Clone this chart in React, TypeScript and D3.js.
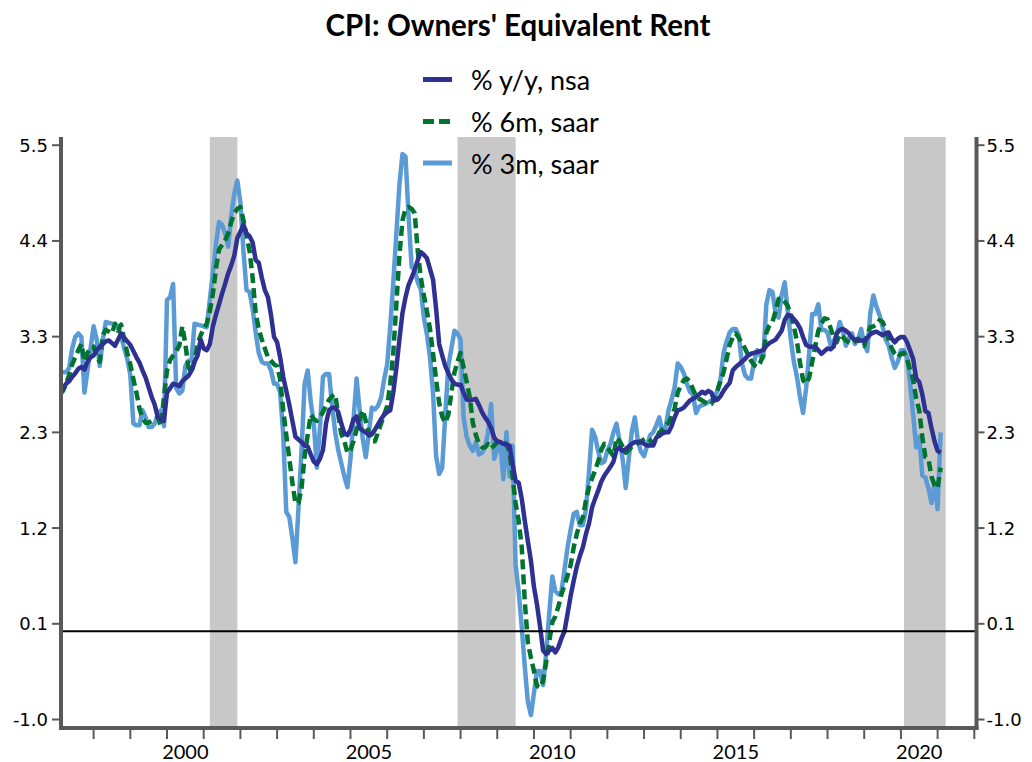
import React from 'react';
import * as d3 from 'd3';

// Monthly data, starting February 1997
const START_YEAR = 1997;
const START_MONTH = 2;

// % y/y, nsa
const yoy = [
  2.72, 2.75, 2.80, 2.83, 2.88, 2.92, 2.97, 2.99, 2.96, 3.05, 3.10,
  3.12, 3.18, 3.22, 3.25, 3.28, 3.29, 3.26, 3.23, 3.30, 3.37, 3.32, 3.28,
  3.24, 3.17, 3.10, 3.04, 2.95, 2.87, 2.76, 2.65, 2.56, 2.42, 2.40, 2.38,
  2.70, 2.75, 2.80, 2.79, 2.77, 2.83, 2.86, 2.89, 2.95, 3.05, 3.12, 3.30,
  3.20, 3.18, 3.25, 3.45, 3.58, 3.70, 3.82, 3.93, 4.05, 4.14, 4.25, 4.45,
  4.52, 4.60, 4.50, 4.47, 4.40, 4.20, 4.17, 4.00, 3.86, 3.78, 3.58, 3.33,
  3.27, 3.10, 2.88, 2.72, 2.56, 2.38, 2.20, 2.17, 2.14, 2.10, 2.09, 2.00,
  1.92, 1.89, 1.95, 2.05, 2.35, 2.50, 2.53, 2.53, 2.48, 2.35, 2.24, 2.22,
  2.28, 2.40, 2.43, 2.30, 2.27, 2.25, 2.22, 2.23, 2.28, 2.34, 2.40, 2.45,
  2.48, 2.50, 2.70, 2.98, 3.30, 3.60, 3.78, 3.92, 4.00, 4.09, 4.20, 4.29,
  4.26, 4.22, 4.10, 3.98, 3.65, 3.25, 3.12, 3.00, 2.92, 2.85, 2.80, 2.79,
  2.79, 2.70, 2.62, 2.61, 2.62, 2.63, 2.56, 2.48, 2.42, 2.37, 2.30, 2.19,
  2.15, 2.14, 2.12, 2.11, 2.10, 1.90, 1.70, 1.68, 1.50, 1.25, 1.02, 0.80,
  0.50, 0.30, 0.05, -0.22, -0.26, -0.22, -0.19, -0.24, -0.18, -0.08, 0.00, 0.20,
  0.40, 0.57, 0.73, 0.85, 0.95, 1.10, 1.22, 1.40, 1.50, 1.59, 1.69, 1.76,
  1.81, 1.86, 1.92, 2.05, 2.08, 2.04, 2.06, 2.09, 2.12, 2.14, 2.14, 2.14,
  2.12, 2.10, 2.10, 2.10, 2.19, 2.21, 2.24, 2.25, 2.25, 2.32, 2.42, 2.50,
  2.51, 2.53, 2.57, 2.61, 2.63, 2.65, 2.68, 2.71, 2.69, 2.72, 2.70, 2.61,
  2.62, 2.66, 2.72, 2.77, 2.81, 2.95, 2.99, 3.02, 3.05, 3.08, 3.12, 3.14,
  3.15, 3.16, 3.17, 3.18, 3.23, 3.26, 3.28, 3.30, 3.35, 3.40, 3.52, 3.58,
  3.57, 3.53, 3.49, 3.43, 3.33, 3.24, 3.22, 3.22, 3.22, 3.18, 3.14, 3.17,
  3.20, 3.19, 3.22, 3.37, 3.41, 3.42, 3.40, 3.37, 3.32, 3.30, 3.29, 3.29,
  3.29, 3.32, 3.36, 3.38, 3.39, 3.37, 3.35, 3.37, 3.38, 3.31, 3.27, 3.31,
  3.33, 3.33, 3.27, 3.18, 3.08, 2.86, 2.82, 2.68, 2.49, 2.47, 2.30, 2.15,
  2.04, 2.02,
];

// % 6m, saar
const sixMonth = [
  2.68, 2.72, 2.80, 2.90, 3.02, 3.10, 3.18, 3.25, 3.05, 3.15, 3.20,
  3.22, 3.10, 3.05, 3.35, 3.41, 3.39, 3.37, 3.48, 3.40, 3.47, 3.30, 3.15,
  3.02, 2.85, 2.70, 2.52, 2.41, 2.36, 2.36, 2.38, 2.40, 2.42, 2.32, 2.65,
  2.95, 3.07, 3.12, 3.17, 3.23, 3.45, 3.25, 2.99, 2.93, 3.05, 3.25, 3.35,
  3.42, 3.48, 3.62, 3.82, 4.10, 4.32, 4.37, 4.42, 4.50, 4.63, 4.73, 4.78,
  4.80, 4.65, 4.48, 4.30, 4.00, 3.60, 3.42, 3.30, 3.20, 3.10, 3.06, 3.02,
  3.00, 2.85, 2.50, 2.22, 1.95, 1.68, 1.45, 1.45, 1.62, 1.98, 2.22, 2.45,
  2.40, 2.38, 2.42, 2.48, 2.55, 2.62, 2.66, 2.68, 2.45, 2.23, 2.15, 2.02,
  2.05, 2.15, 2.28, 2.40, 2.50, 2.38, 2.25, 2.15, 2.15, 2.25, 2.35, 2.45,
  2.55, 2.80, 3.15, 3.70, 4.25, 4.65, 4.78, 4.80, 4.78, 4.73, 4.30, 4.00,
  3.80, 3.62, 3.42, 3.14, 2.85, 2.58, 2.43, 2.36, 2.45, 2.70, 2.93, 3.05,
  3.15, 2.98, 2.82, 2.65, 2.36, 2.22, 2.12, 2.08, 2.08, 2.12, 2.07, 2.10,
  2.14, 2.14, 2.14, 2.12, 2.03, 1.75, 1.45, 1.25, 0.95, 0.34, -0.13, -0.30,
  -0.45, -0.62, -0.64, -0.56, -0.35, -0.12, 0.10, 0.17, 0.28, 0.42, 0.52, 0.63,
  0.75, 0.95, 1.10, 1.22, 1.29, 1.48, 1.63, 1.73, 1.82, 1.92, 2.05, 2.12,
  2.08, 2.03, 1.98, 2.19, 2.15, 2.09, 2.02, 2.05, 2.09, 2.11, 2.13, 2.15,
  2.17, 2.19, 2.16, 2.12, 2.18, 2.25, 2.28, 2.32, 2.36, 2.43, 2.52, 2.70,
  2.78, 2.84, 2.86, 2.82, 2.74, 2.66, 2.63, 2.61, 2.59, 2.56, 2.57, 2.64,
  2.72, 2.83, 2.93, 3.08, 3.24, 3.32, 3.37, 3.32, 3.26, 3.20, 3.13, 3.06,
  3.01, 2.99, 3.04, 3.13, 3.38, 3.46, 3.50, 3.62, 3.76, 3.77, 3.73, 3.68,
  3.58, 3.45, 3.28, 3.04, 2.84, 2.80, 2.87, 3.05, 3.23, 3.40, 3.48, 3.54,
  3.53, 3.43, 3.33, 3.27, 3.36, 3.33, 3.29, 3.27, 3.25, 3.28, 3.31, 3.27,
  3.23, 3.35, 3.44, 3.45, 3.47, 3.52, 3.50, 3.42, 3.30, 3.20, 3.14, 3.10,
  3.14, 3.15, 3.08, 2.96, 2.85, 2.63, 2.50, 2.20, 1.97, 1.95, 1.75, 1.65,
  1.62, 1.85,
];

// % 3m, saar
const threeMonth = [
  2.93, 2.93, 2.93, 2.98, 3.20, 3.33, 3.37, 3.33, 2.70, 2.95, 3.20,
  3.45, 3.30, 3.00, 3.30, 3.50, 3.49, 3.48, 3.47, 3.45, 3.34, 3.20, 3.08,
  2.90, 2.35, 2.33, 2.33, 2.50, 2.42, 2.31, 2.31, 2.35, 2.45, 2.50, 2.32,
  3.75, 3.78, 3.93, 2.75, 2.69, 2.72, 3.00, 3.06, 3.06, 3.48, 3.47, 3.46,
  3.45, 3.44, 3.75, 4.05, 4.38, 4.63, 4.60, 4.50, 4.35, 4.70, 4.95, 5.10,
  4.85, 4.30, 3.86, 3.84, 3.65, 3.38, 3.15, 3.05, 3.03, 3.03, 2.95, 2.80,
  2.80, 2.70, 2.23, 1.35, 1.29, 1.05, 0.78, 1.40, 2.05, 2.80, 2.95, 2.60,
  2.35, 1.85, 2.30, 2.88, 2.91, 2.91, 2.55, 2.25, 2.05, 1.90, 1.75, 1.63,
  1.95, 2.40, 2.86, 2.50, 2.18, 1.97, 2.25, 2.53, 2.51, 2.55, 2.64, 2.85,
  3.02, 3.45, 3.95, 4.50, 5.05, 5.40, 5.37, 4.70, 4.12, 4.09, 3.95, 3.87,
  3.55, 3.36, 3.10, 2.69, 1.98, 1.78, 1.85, 2.45, 3.00, 3.20, 3.40, 3.37,
  3.30, 2.42, 2.20, 2.10, 2.04, 2.14, 2.00, 2.02, 2.08, 2.25, 2.57, 1.95,
  2.05, 2.14, 1.72, 2.25, 1.75, 2.10, 0.75, 0.45, 0.05, -0.40, -0.80, -0.95,
  -0.70, -0.45, -0.45, -0.61, -0.25, 0.20, 0.62, 0.45, 0.42, 0.45, 0.70, 0.95,
  1.15, 1.33, 1.35, 1.20, 1.20, 1.38, 1.80, 2.28, 2.20, 2.04, 1.90, 1.92,
  2.04, 2.12, 2.25, 2.35, 2.15, 1.95, 1.62, 1.95, 2.26, 2.42, 2.15, 2.03,
  1.98, 2.10, 2.22, 2.25, 2.33, 2.42, 2.24, 2.30, 2.50, 2.62, 2.76, 3.03,
  2.99, 2.92, 2.80, 2.71, 2.68, 2.47, 2.54, 2.56, 2.57, 2.59, 2.61, 2.65,
  2.72, 2.85, 3.15, 3.28, 3.38, 3.42, 3.42, 3.35, 3.03, 2.90, 2.86, 2.86,
  3.05, 3.18, 3.12, 3.10, 3.70, 3.86, 3.84, 3.60, 3.55, 3.80, 3.95, 3.62,
  3.30, 3.05, 2.88, 2.65, 2.47, 2.75, 3.15, 3.59, 3.59, 3.70, 3.41, 3.41,
  3.38, 3.24, 3.28, 3.36, 3.50, 3.40, 3.23, 3.32, 3.37, 3.25, 3.30, 3.42,
  3.25, 3.17, 3.60, 3.80, 3.67, 3.58, 3.45, 3.30, 3.23, 3.09, 2.98, 3.05,
  3.18, 3.18, 3.10, 2.80, 2.45, 2.08, 2.20, 1.76, 1.74, 1.62, 1.45, 1.68,
  1.38, 2.25,
];

const yTicks = [-1.0, 0.0833, 1.1667, 2.25, 3.3333, 4.4167, 5.5];
const yTickLabels = ['-1.0', '0.1', '1.2', '2.3', '3.3', '4.4', '5.5'];
const xTickYears = [1998, 1999, 2000, 2001, 2002, 2003, 2004, 2005, 2006, 2007, 2008, 2009, 2010,
  2011, 2012, 2013, 2014, 2015, 2016, 2017, 2018, 2019, 2020, 2021, 2022];
const xLabelYears = [2000, 2005, 2010, 2015, 2020];
const recessions = [[2001.167, 2001.917], [2007.917, 2009.5], [2020.083, 2021.22]];

const seriesNames = ['% y/y, nsa', '% 6m, saar', '% 3m, saar'];

export default function App() {
  const W = 1032, H = 762;
  const L = 61, R = 976.5, T = 137, B = 728;
  const x = d3.scaleLinear().domain([1997.111, 2022.06]).range([L, R]);
  const y = d3.scaleLinear().domain([-1.096, 5.593]).range([B, T]);
  const tOf = (i: number) => START_YEAR + (START_MONTH - 1 + i) / 12;
  const line = d3.line<number>().x((_d, i) => x(tOf(i))).y((d) => y(d));

  const axisColor = '#595959';
  const cDark = '#2E3192';
  const cGreen = '#00732F';
  const cLight = '#5B9BD5';
  const tickFont = '"DejaVu Sans", Verdana, sans-serif';
  const calFont = 'Lato, "Open Sans", sans-serif';

  const legendRows = [
    { name: seriesNames[0], color: cDark, dash: false, y: 79.5 },
    { name: seriesNames[1], color: cGreen, dash: true, y: 121.5 },
    { name: seriesNames[2], color: cLight, dash: false, y: 163 },
  ];

  return (
    <svg width={W} height={H} style={{ position: 'absolute', left: 0, top: 0, background: '#fff' }}>
      <defs>
        <clipPath id="plot">
          <rect x={L} y={T} width={R - L} height={B - T} />
        </clipPath>
      </defs>
      <rect x={0} y={0} width={W} height={H} fill="#fff" />
      <text x={518} y={36} textAnchor="middle" fontFamily={calFont} fontWeight={700} fontSize={29.5} fill="#000">
        CPI: Owners' Equivalent Rent
      </text>

      {recessions.map(([a, b], i) => (
        <rect key={i} x={x(a)} y={T} width={x(b) - x(a)} height={B - T} fill="#C8C8C8" />
      ))}

      {legendRows.map((r, i) => (
        <g key={i}>
          <line x1={423} x2={452} y1={r.y} y2={r.y} stroke={r.color} strokeWidth={5} strokeDasharray={r.dash ? '11,5' : undefined} />
          <text x={471} y={r.y} dominantBaseline="central" fontFamily={calFont} fontSize={27} fill="#000">{r.name}</text>
        </g>
      ))}

      <g clipPath="url(#plot)" fill="none" strokeLinejoin="round">
        <path d={line(threeMonth) || ''} stroke={cLight} strokeWidth={4.5} />
        <path d={line(sixMonth) || ''} stroke={cGreen} strokeWidth={4.5} strokeDasharray="10,5" />
        <path d={line(yoy) || ''} stroke={cDark} strokeWidth={4.5} />
      </g>

      <line x1={L} x2={R} y1={y(0)} y2={y(0)} stroke="#000" strokeWidth={2} />

      <line x1={L} x2={L} y1={T} y2={B + 2} stroke={axisColor} strokeWidth={4} />
      <line x1={R} x2={R} y1={T} y2={B + 2} stroke={axisColor} strokeWidth={4} />
      <line x1={L - 2} x2={R + 2} y1={B} y2={B} stroke={axisColor} strokeWidth={4} />

      {yTicks.map((v, i) => (
        <g key={i}>
          <line x1={L - 9} x2={L} y1={y(v)} y2={y(v)} stroke={axisColor} strokeWidth={2} />
          <text x={L - 13} y={y(v)} textAnchor="end" dominantBaseline="central" fontFamily={tickFont} fontSize={18} fill="#000">{yTickLabels[i]}</text>
          <line x1={R} x2={R + 8} y1={y(v)} y2={y(v)} stroke={axisColor} strokeWidth={2} />
          <text x={R + 10} y={y(v)} textAnchor="start" dominantBaseline="central" fontFamily={tickFont} fontSize={18} fill="#000">{yTickLabels[i]}</text>
        </g>
      ))}

      {xTickYears.map((yr) => (
        <line key={yr} x1={x(yr)} x2={x(yr)} y1={B + 2} y2={B + 11} stroke={axisColor} strokeWidth={2} />
      ))}
      {xLabelYears.map((yr) => (
        <text key={yr} x={x(yr + 0.5)} y={758.5} textAnchor="middle" fontFamily={calFont} fontSize={20} fill="#000">{yr}</text>
      ))}
    </svg>
  );
}
